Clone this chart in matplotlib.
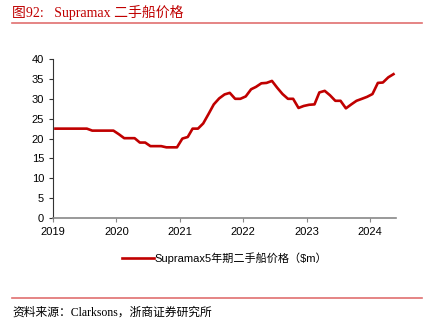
import matplotlib.pyplot as plt
import matplotlib.dates as mdates
from matplotlib.lines import Line2D
import pandas as pd

# Supramax 5-year-old secondhand price, monthly, $m (Jan 2019 - May 2024)
months = pd.date_range("2019-01", "2024-05", freq="MS") + pd.Timedelta(days=14)
price = [
    22.5, 22.5, 22.5, 22.5, 22.5, 22.5, 22.5, 22.0, 22.0, 22.0, 22.0, 22.0,   # 2019
    21.1, 20.1, 20.1, 20.1, 19.0, 19.0, 18.1, 18.1, 18.1, 17.8, 17.8, 17.8,   # 2020
    20.0, 20.4, 22.5, 22.5, 23.8, 26.2, 28.6, 30.1, 31.1, 31.5, 30.0, 30.0,   # 2021
    30.6, 32.4, 33.0, 33.9, 34.0, 34.5, 32.8, 31.2, 30.0, 30.0, 27.7, 28.2,   # 2022
    28.5, 28.6, 31.6, 32.0, 30.9, 29.5, 29.5, 27.6, 28.6, 29.5, 30.0, 30.5,   # 2023
    31.2, 34.0, 34.1, 35.4, 36.2,                                             # 2024
]

red = "#c00000"
rule = "#e07070"
cjk = "Noto Sans CJK SC"

fig = plt.figure(figsize=(4.31, 3.28), dpi=100)

# header and footer
fig.text(0.028, 0.963, "图92:   Supramax 二手船价格", color=red, fontsize=10,
         family=["Liberation Serif", cjk], va="center")
fig.add_artist(Line2D([0.028, 0.979], [0.93, 0.93], color=rule, lw=1.2,
                      transform=fig.transFigure))
fig.add_artist(Line2D([0.028, 0.979], [0.092, 0.092], color=rule, lw=1.2,
                      transform=fig.transFigure))
fig.text(0.028, 0.046, "资料来源：Clarksons，浙商证券研究所", color="black", fontsize=8.5,
         family=["Liberation Serif", cjk], va="center")

ax = fig.add_axes([0.123, 0.335, 0.796, 0.485])
ax.plot(months, price, color=red, lw=1.9, solid_joinstyle="round",
        label="Supramax5年期二手船价格（$m）")

ax.set_ylim(0, 40)
ax.set_yticks(range(0, 41, 5))
ax.set_xlim(pd.Timestamp("2019-01-01"), pd.Timestamp("2024-05-30"))
ax.xaxis.set_major_locator(mdates.YearLocator())
ax.xaxis.set_major_formatter(mdates.DateFormatter("%Y"))

for s in ["top", "right"]:
    ax.spines[s].set_visible(False)
ax.spines["left"].set_color("#333333")
ax.spines["bottom"].set_color("#888888")
ax.spines["left"].set_linewidth(0.8)
ax.spines["bottom"].set_linewidth(1.2)
ax.tick_params(axis="both", labelsize=8, length=3, width=0.8, colors="#333333",
               labelcolor="black")
ax.tick_params(axis="x", colors="#888888", labelcolor="black")
for lab in ax.get_xticklabels() + ax.get_yticklabels():
    lab.set_family(["Liberation Sans", cjk])

leg = ax.legend(loc="upper center", bbox_to_anchor=(0.5, -0.15), frameon=False,
                handlelength=2.9, handletextpad=0.1,
                prop={"family": ["Liberation Sans", cjk], "size": 8})

fig.savefig("out.png", dpi=100)
